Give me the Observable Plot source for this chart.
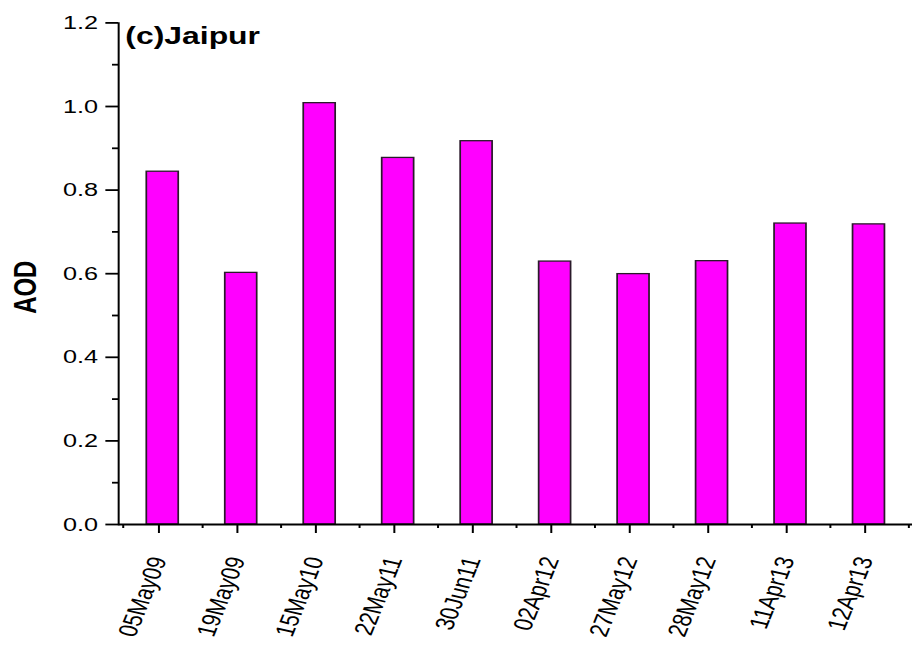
<!DOCTYPE html>
<html><head><meta charset="utf-8">
<script src="https://cdn.jsdelivr.net/npm/d3@7"></script>
<script src="https://cdn.jsdelivr.net/npm/@observablehq/plot@0.6"></script>
<style>
html,body{margin:0;padding:0;background:#fff;}
#chart svg{display:block;}
</style></head><body><div id="chart"></div>
<script>
const dates = ["05May09","19May09","15May10","22May11","30Jun11","02Apr12","27May12","28May12","11Apr13","12Apr13"];
const aod = [0.844,0.602,1.008,0.877,0.917,0.629,0.599,0.630,0.720,0.718];
const yTicks = [0,0.2,0.4,0.6,0.8,1.0,1.2];
const yMinorTicks = [0.1,0.3,0.5,0.7,0.9,1.1];
const title = "(c)Jaipur";
const yLabel = "AOD";

const data = dates.map((d, i) => ({date: d, aod: aod[i]}));

const W = 924, H = 648, SX = 1.33;      // the reference is horizontally stretched
const iw = W / SX;
const mL = 118 / SX, mR = 12 / SX, mT = 22.4, mB = 124;
const step = (iw - mL - mR) / dates.length;
const font = "'Liberation Sans', Arial, Helvetica, sans-serif";

const chart = Plot.plot({
  width: iw, height: H,
  marginLeft: mL, marginRight: mR, marginTop: mT, marginBottom: mB,
  style: {fontFamily: font, fontSize: "19px", color: "#000", background: "#fff", overflow: "visible"},
  x: {domain: dates, paddingInner: 0.6, paddingOuter: 0.3, axis: null},
  y: {domain: [0, 1.2], axis: null},
  marks: [
    Plot.barY(data, {x: "date", y: "aod", fill: "#ff00ff", stroke: "#2a1a2a", strokeWidth: 1.3}),
    // y axis
    Plot.axisY(yTicks, {tickSize: 9.5, tickPadding: 6, tickFormat: d3.format(".1f"), strokeWidth: 1.8, fontSize: 19, label: null}),
    Plot.axisY(yMinorTicks, {tickSize: 4.5, tickFormat: () => "", strokeWidth: 1.8, label: null}),
    // x axis
    Plot.axisX(dates, {tickSize: 9, tickPadding: 24, tickRotate: -73, textAnchor: "end", lineAnchor: "middle", dx: -3, fontSize: 20, strokeWidth: 1.5, label: null}),
    Plot.axisX(dates, {tickSize: 4, tickFormat: () => "", dx: step / 2, strokeWidth: 1.5, label: null}),
    Plot.axisX([dates[0]], {tickSize: 4, tickFormat: () => "", dx: -step / 2, strokeWidth: 1.5, label: null}),
    // axis lines
    Plot.frame({anchor: "left", strokeWidth: 1.5}),
    Plot.ruleY([0], {strokeWidth: 2}),
    // labels
    Plot.text([yLabel], {frameAnchor: "left", rotate: -90, dx: -70, dy: 13.5, fontWeight: "bold", fontSize: 24, textAnchor: "middle"}),
    Plot.text([title], {frameAnchor: "top-left", dx: 5, dy: 4, lineAnchor: "top", fontWeight: "bold", fontSize: 24, textAnchor: "start"})
  ]
});

chart.setAttribute("viewBox", `0 0 ${iw} ${H}`);
chart.setAttribute("width", W);
chart.setAttribute("height", H);
chart.setAttribute("preserveAspectRatio", "none");
chart.style.width = W + "px";
chart.style.height = H + "px";
chart.style.maxWidth = "none";
document.getElementById("chart").appendChild(chart);
</script>
</body></html>
